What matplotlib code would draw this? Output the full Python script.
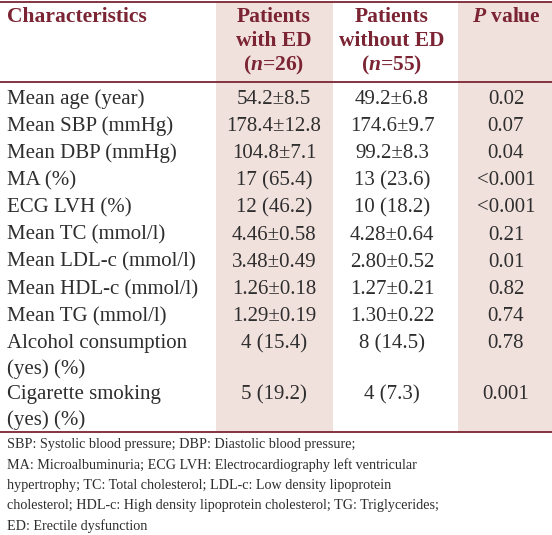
import matplotlib.pyplot as plt
from matplotlib.patches import Rectangle

# table content
characteristics = ["Mean age (year)", "Mean SBP (mmHg)", "Mean DBP (mmHg)", "MA (%)",
                   "ECG LVH (%)", "Mean TC (mmol/l)", "Mean LDL-c (mmol/l)",
                   "Mean HDL-c (mmol/l)", "Mean TG (mmol/l)",
                   "Alcohol consumption\n(yes) (%)", "Cigarette smoking\n(yes) (%)"]
with_ed = ["54.2\u00b18.5", "178.4\u00b112.8", "104.8\u00b17.1", "17 (65.4)", "12 (46.2)",
           "4.46\u00b10.58", "3.48\u00b10.49", "1.26\u00b10.18", "1.29\u00b10.19",
           "4 (15.4)", "5 (19.2)"]
without_ed = ["49.2\u00b16.8", "174.6\u00b19.7", "99.2\u00b18.3", "13 (23.6)", "10 (18.2)",
              "4.28\u00b10.64", "2.80\u00b10.52", "1.27\u00b10.21", "1.30\u00b10.22",
              "8 (14.5)", "4 (7.3)"]
p_values = ["0.02", "0.07", "0.04", "<0.001", "<0.001", "0.21", "0.01", "0.82", "0.74",
            "0.78", "0.001"]
headers = [["Characteristics"],
           ["Patients", "with ED", "($\\it{n}$=26)"],
           ["Patients", "without ED", "($\\it{n}$=55)"],
           ["$\\it{P}$ value"]]
footnote = ["SBP: Systolic blood pressure; DBP: Diastolic blood pressure;",
            "MA: Microalbuminuria; ECG LVH: Electrocardiography left ventricular",
            "hypertrophy; TC: Total cholesterol; LDL-c: Low density lipoprotein",
            "cholesterol; HDL-c: High density lipoprotein cholesterol; TG: Triglycerides;",
            "ED: Erectile dysfunction"]

red = "#7b2433"
shade = "#f1e1dd"
txt = "#2e2e2e"
font = "Liberation Serif"

# italic n and P in the header in the same serif face
plt.rcParams["mathtext.fontset"] = "custom"
plt.rcParams["mathtext.it"] = "Liberation Serif:italic:bold"
plt.rcParams["mathtext.rm"] = "Liberation Serif:bold"

W, H = 552, 535
fig = plt.figure(figsize=(W / 100, H / 100), dpi=100)
ax = fig.add_axes([0, 0, 1, 1])
ax.set_xlim(0, W)
ax.set_ylim(H, 0)
ax.axis("off")

top, head_bot, bot = 2, 82, 432
# shaded columns
ax.add_patch(Rectangle((216, top), 117, bot - top, color=shade, lw=0))
ax.add_patch(Rectangle((458, top), W - 458, bot - top, color=shade, lw=0))
for y in (top, head_bot, bot):
    ax.plot([0, W], [y, y], color=red, lw=1.3)

col_x = [274, 392, 506]
hs = 15.5
for j, hd in enumerate(headers):
    for i, ln in enumerate(hd):
        if j == 0:
            ax.text(7, 17, ln, color=red, fontsize=hs, fontweight="bold", family=font,
                    va="center")
        else:
            ax.text(col_x[j - 1], 17.5 + i * 24, ln, color=red, fontsize=hs,
                    fontweight="bold", family=font, va="center", ha="center")

fs = 15
y = 99
for name, a, b, p in zip(characteristics, with_ed, without_ed, p_values):
    lines = name.split("\n")
    for i, ln in enumerate(lines):
        ax.text(7, y + i * 25, ln, fontsize=fs, family=font, color=txt, va="center")
    for cx, v in zip(col_x, (a, b, p)):
        ax.text(cx, y, v, fontsize=fs, family=font, color=txt, va="center", ha="center")
    y += 27.2 if len(lines) == 1 else 51

fy = 444.5
for ln in footnote:
    ax.text(7, fy, ln, fontsize=10.2, family=font, color=txt, va="center")
    fy += 20.4

fig.savefig("out.png", dpi=100)
